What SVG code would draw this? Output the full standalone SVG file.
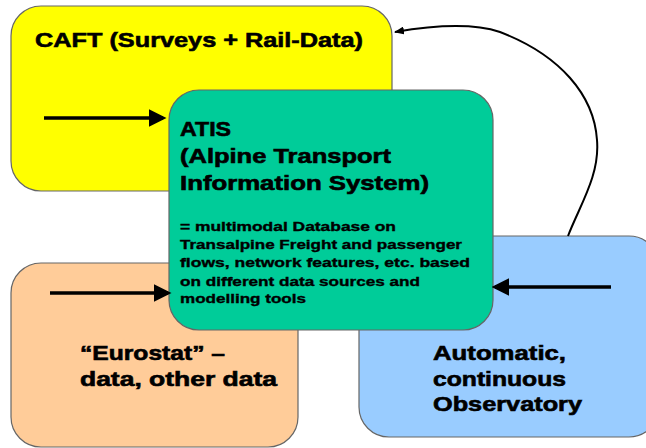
<svg xmlns="http://www.w3.org/2000/svg" width="646" height="448" viewBox="0 0 646 448">
<style>
.box{stroke:#666;stroke-width:1.2}
.big{font-family:"Liberation Sans",Arial,sans-serif;font-weight:bold;font-size:20px;fill:#000;stroke:#000;stroke-width:0.6}
.small{font-family:"Liberation Sans",Arial,sans-serif;font-weight:bold;font-size:12.5px;fill:#000;stroke:#000;stroke-width:0.35}
.thick{stroke:#000;stroke-width:3.5;fill:none}
.thin{stroke:#000;stroke-width:2;fill:none}
</style>
<defs>
<marker id="ah" markerWidth="5" markerHeight="5" refX="4" refY="2.5" orient="auto" markerUnits="strokeWidth">
<path d="M0,0 L5,2.5 L0,5 Z" fill="#000"/>
</marker>
<marker id="ah2" markerWidth="10" markerHeight="8" refX="9" refY="4" orient="auto" markerUnits="userSpaceOnUse">
<path d="M0,0 L10,4 L0,8 Z" fill="#000"/>
</marker>
</defs>
<rect width="646" height="448" fill="#fff"/>
<g id="caft">
<rect class="box" x="11" y="6" width="381" height="185" rx="30" fill="#ffff00"/>
<text class="big" x="35" y="47" style="font-size:21px" textLength="328" lengthAdjust="spacingAndGlyphs">CAFT (Surveys + Rail-Data)</text>
</g>
<g id="eurostat">
<rect class="box" x="11" y="263" width="287" height="184" rx="30" fill="#ffcc99"/>
<text class="big" x="80" y="360" textLength="145" lengthAdjust="spacingAndGlyphs">“Eurostat” –</text>
<text class="big" x="80" y="386" textLength="197" lengthAdjust="spacingAndGlyphs">data, other data</text>
</g>
<g id="observatory">
<rect class="box" x="359" y="236" width="300" height="201" rx="30" fill="#99ccff"/>
<text class="big" x="433" y="360" textLength="133" lengthAdjust="spacingAndGlyphs">Automatic,</text>
<text class="big" x="433" y="386" textLength="133" lengthAdjust="spacingAndGlyphs">continuous</text>
<text class="big" x="433" y="411" textLength="149" lengthAdjust="spacingAndGlyphs">Observatory</text>
</g>
<g id="atis">
<rect class="box" x="169" y="90" width="324" height="240" rx="30" fill="#00cc99"/>
<text class="big" x="180" y="136" textLength="51" lengthAdjust="spacingAndGlyphs">ATIS</text>
<text class="big" x="180" y="163" textLength="211" lengthAdjust="spacingAndGlyphs">(Alpine Transport</text>
<text class="big" x="180" y="190" textLength="249" lengthAdjust="spacingAndGlyphs">Information System)</text>
<text class="small" x="180" y="230.5" textLength="216" lengthAdjust="spacingAndGlyphs">=  multimodal Database on</text>
<text class="small" x="180" y="249" textLength="282" lengthAdjust="spacingAndGlyphs">Transalpine Freight and passenger</text>
<text class="small" x="180" y="267" textLength="290" lengthAdjust="spacingAndGlyphs">flows, network features, etc. based</text>
<text class="small" x="180" y="285.5" textLength="240" lengthAdjust="spacingAndGlyphs">on different data sources and</text>
<text class="small" x="180" y="303" textLength="126" lengthAdjust="spacingAndGlyphs">modelling tools</text>
</g>
<g id="connectors">
<line class="thick" x1="44" y1="118" x2="163" y2="118" marker-end="url(#ah)"/>
<line class="thick" x1="50" y1="293" x2="168" y2="293" marker-end="url(#ah)"/>
<line class="thick" x1="611" y1="287" x2="495" y2="287" marker-end="url(#ah)"/>
<path class="thin" d="M568,236 C580,205 600,175 597,140 C594,95 560,55 500,32 C470,22 430,26 395,32" marker-end="url(#ah2)"/>
</g>
</svg>
